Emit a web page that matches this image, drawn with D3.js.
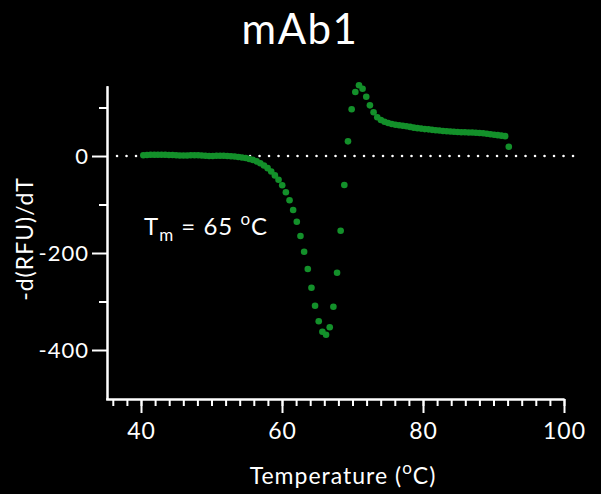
<!DOCTYPE html>
<html>
<head>
<meta charset="utf-8">
<script src="https://cdn.jsdelivr.net/npm/d3@7/dist/d3.min.js"></script>
<style>
  html, body { margin: 0; padding: 0; background: #000; }
  svg { display: block; }
  text { font-family: "Lato", "Noto Sans", sans-serif; fill: #fff; }
</style>
</head>
<body>
<svg id="chart" width="601" height="494"></svg>
<script>
// Melt curve, first derivative: temperature (°C) vs -d(RFU)/dT
const temperatures = [
  40.33, 40.85, 41.37, 41.89, 42.40, 42.92, 43.44, 43.96, 44.48, 45.00,
  45.51, 46.03, 46.55, 47.07, 47.59, 48.11, 48.62, 49.14, 49.66, 50.18,
  50.70, 51.22, 51.73, 52.25, 52.77, 53.29, 53.81, 54.33, 54.85, 55.36,
  55.88, 56.40, 56.92, 57.44, 57.96, 58.47, 58.99, 59.51, 60.03, 60.55,
  61.07, 61.58, 62.10, 62.62, 63.14, 63.66, 64.18, 64.69, 65.21, 65.73,
  66.25, 66.77, 67.29, 67.81, 68.32, 68.84, 69.36, 69.88, 70.40, 70.92,
  71.43, 71.95, 72.47, 72.99, 73.51, 74.03, 74.54, 75.06, 75.58, 76.10,
  76.62, 77.14, 77.65, 78.17, 78.69, 79.21, 79.73, 80.25, 80.77, 81.28,
  81.80, 82.32, 82.84, 83.36, 83.88, 84.39, 84.91, 85.43, 85.95, 86.47,
  86.99, 87.50, 88.02, 88.54, 89.06, 89.58, 90.10, 90.61, 91.13, 91.65,
  92.17
];
const derivative = [
  1.5, 2, 2.5, 2.5, 2.5, 2.5, 2.5, 2, 2, 1.5,
  1, 1, 1, 1.5, 1.5, 1.5, 1, 0.5, 0, 0,
  0.5, 0.5, 0.5, 0, -0.5, -1, -2, -3, -4, -6,
  -8, -11, -15, -19.5, -25, -32, -40, -49, -60.4, -74.8,
  -91.3, -111.3, -135.5, -165, -197.3, -233, -271.5, -308.7, -340.8, -362.3,
  -368.5, -353.2, -310.7, -240.6, -154, -59.8, 30.3, 96.3, 132, 145.8,
  138.8, 122.3, 104.5, 90.1, 79.8, 74.2, 70.7, 68, 66, 64.5,
  63.5, 62.5, 61.5, 60, 58.5, 57.5, 56.5, 55.5, 55, 54,
  53, 52.5, 51.5, 51, 50.5, 50, 49.5, 49, 49, 48.5,
  48.5, 48, 47.5, 47, 46, 45, 44, 43, 42, 41,
  19
];

const xMajorTicks = [40, 60, 80, 100];
const xMinorTicks = d3.range(36, 101, 2);
const yMajorTicks = [0, -200, -400];
const yMinorTicks = [100, -100, -300];
const xDomain = [35, 100];
const yDomain = [-500, 145];
const zeroLineExtent = [36.6, 101.3];

const titleText = "mAb1";
const yLabelText = "-d(RFU)/dT";

const svg = d3.select("#chart");

const x = d3.scaleLinear().domain(xDomain).range([105.75, 564]);
const y = d3.scaleLinear().domain(yDomain).range([398.5, 85.7]);

const axisX = 107;
const axisY = 399;

// title
svg.append("text")
  .attr("x", 300).attr("y", 44)
  .attr("text-anchor", "middle")
  .style("font-size", "42px")
  .style("letter-spacing", "1.5px")
  .text(titleText);

// dotted zero reference line
svg.append("line")
  .attr("x1", x(zeroLineExtent[0])).attr("x2", x(zeroLineExtent[1]))
  .attr("y1", y(0)).attr("y2", y(0))
  .attr("stroke", "#fff")
  .attr("stroke-width", 2.6)
  .attr("stroke-linecap", "round")
  .attr("stroke-dasharray", "0 9.5");

// x axis: minor then major ticks
const gx = svg.append("g").attr("transform", `translate(0,${axisY})`);
gx.append("g")
  .call(d3.axisBottom(x).tickValues(xMinorTicks).tickSize(7).tickSizeOuter(0).tickFormat(""));
gx.append("g")
  .call(d3.axisBottom(x).tickValues(xMajorTicks).tickSize(14).tickSizeOuter(0).tickPadding(10));
gx.selectAll("path, line").attr("stroke", "#fff").attr("stroke-width", 2);
gx.selectAll("text").style("font-size", "23px").style("letter-spacing", "1px")
  .attr("fill", "#fff").style("font-family", "Lato, sans-serif");

// y axis
const gy = svg.append("g").attr("transform", `translate(${axisX},0)`);
gy.append("g")
  .call(d3.axisLeft(y).tickValues(yMinorTicks).tickSize(8).tickSizeOuter(0).tickFormat(""));
const gyMajor = gy.append("g")
  .call(d3.axisLeft(y).tickValues(yMajorTicks).tickSize(15).tickSizeOuter(0).tickPadding(3)
    .tickFormat(d => String(d)));
gy.selectAll("path, line").attr("stroke", "#fff").attr("stroke-width", 2);
gyMajor.selectAll("text").style("font-size", "22px").style("letter-spacing", "1px")
  .attr("fill", "#fff").style("font-family", "Lato, sans-serif");

// data points
svg.append("g")
  .selectAll("circle")
  .data(temperatures.map((t, i) => ({ t, v: derivative[i] })))
  .join("circle")
  .attr("cx", d => x(d.t))
  .attr("cy", d => y(d.v))
  .attr("r", 3.3)
  .attr("fill", "#13902a");

// x label with superscript degree sign
const xl = svg.append("text")
  .attr("x", 343).attr("y", 484)
  .attr("text-anchor", "middle")
  .style("font-size", "23px")
  .style("letter-spacing", "1px");
xl.append("tspan").text("Temperature (");
xl.append("tspan").attr("dy", -10).style("font-size", "17px").text("o");
xl.append("tspan").attr("dy", 10).text("C)");

// y label
svg.append("text")
  .attr("transform", "translate(33,239) rotate(-90)")
  .attr("text-anchor", "middle")
  .style("font-size", "23px")
  .style("letter-spacing", "1px")
  .text(yLabelText);

// Tm annotation
const tm = svg.append("text")
  .attr("x", 144).attr("y", 235)
  .style("font-size", "24px")
  .style("letter-spacing", "1px");
tm.append("tspan").text("T");
tm.append("tspan").attr("dy", 6).style("font-size", "17px").text("m");
tm.append("tspan").attr("dy", -6).text(" = 65 ");
tm.append("tspan").attr("dy", -10).style("font-size", "17px").text("o");
tm.append("tspan").attr("dy", 10).text("C");
</script>
</body>
</html>
